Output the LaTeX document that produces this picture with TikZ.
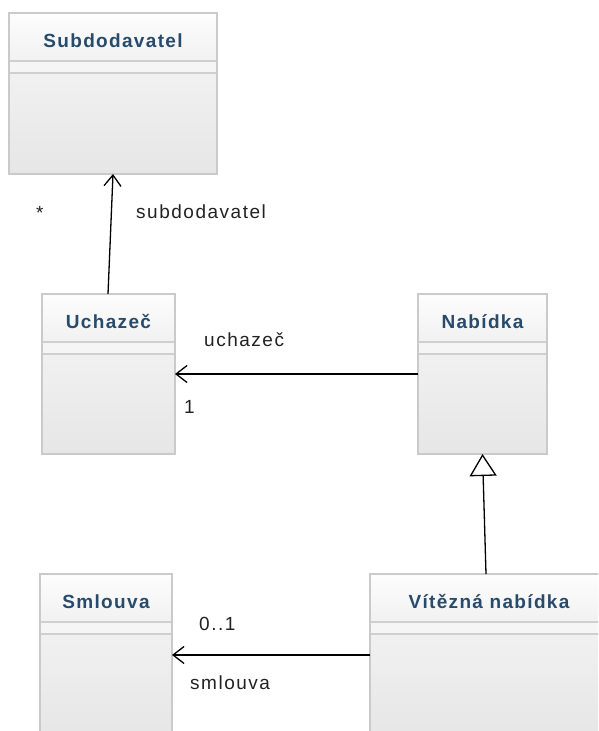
\documentclass[tikz,border=0pt]{standalone}
\usepackage{fontspec}
\setmainfont{Liberation Sans}
\newfontfamily\titlefont[LetterSpace=7]{Liberation Sans}
\newfontfamily\labelfont[LetterSpace=8]{Liberation Sans}
\usetikzlibrary{arrows.meta,calc}

\definecolor{boxline}{HTML}{CACACA}
\definecolor{sepcolor}{HTML}{CFCFCF}
\definecolor{bodytop}{HTML}{F7F7F7}
\definecolor{bodybottom}{HTML}{E6E6E6}
\definecolor{nametop}{HTML}{FDFDFD}
\definecolor{namebottom}{HTML}{F1F1F1}
\definecolor{attrfill}{HTML}{F5F5F5}
\definecolor{titleblue}{HTML}{284B6C}
\definecolor{labelgray}{HTML}{222222}

\tikzset{
  classbody/.style={draw=boxline, line width=1.2pt, top color=bodytop,
    bottom color=bodybottom, inner sep=0pt, outer sep=0pt},
  namefill/.style={top color=nametop, bottom color=namebottom},
  attrband/.style={fill=attrfill},
  sepline/.style={draw=sepcolor, line width=1.2pt},
  classtitle/.style={font={\fontsize{19}{22}\titlefont\bfseries},
    text=titleblue, anchor=base, inner sep=0pt},
  rolelabel/.style={font={\fontsize{19}{22}\labelfont}, text=labelgray,
    anchor=base west, inner sep=0pt},
  assoc/.style={draw=black, line width=1.3pt,
    -{Straight Barb[length=11pt,width=17pt,line width=1.3pt]}},
  generalize/.style={draw=black, line width=1.3pt,
    -{Triangle[length=22pt,width=27pt,fill=white,line width=1.3pt]}}
}

% UML class: name, left, top, width, height, title
\newcommand\umlclass[6]{%
  \node[classbody, minimum width=#4pt, minimum height=#5pt,
        anchor=north west] (#1) at (#2,#3) {};
  \path[namefill] ($(#1.north west)+(0.6,0.6)$) rectangle ($(#1.north east)+(-0.6,48)$);
  \path[attrband] ($(#1.north west)+(0.6,48)$) rectangle ($(#1.north east)+(-0.6,60)$);
  \draw[sepline] ($(#1.north west)+(0,48)$) -- ($(#1.north east)+(0,48)$);
  \draw[sepline] ($(#1.north west)+(0,60)$) -- ($(#1.north east)+(0,60)$);
  \draw[draw=boxline, line width=1.2pt] (#1.north west) rectangle (#1.south east);
  \node[classtitle] (#1-title) at ($(#1.north)+(0,34.5)$) {#6};
}

\begin{document}
\begin{tikzpicture}[x=1pt, y=-1pt]
  \useasboundingbox (0,0) rectangle (598,731);
  \fill[white] (0,0) rectangle (598,731);
  \clip (0,0) rectangle (598,731);

  % classes
  \umlclass{sub}{9}{13}{208}{161}{Subdodavatel}
  \umlclass{uch}{42}{294}{133}{160}{Uchazeč}
  \umlclass{nab}{418}{294}{129}{160}{Nabídka}
  \umlclass{sml}{40}{574}{132}{162}{Smlouva}
  \umlclass{vit}{370}{574}{238}{162}{Vítězná nabídka}

  % associations
  \draw[assoc] ([xshift=-0.5pt]uch.north) -- (sub.south);
  \draw[assoc] (nab.west) -- (uch.east);
  \draw[assoc] (vit.west) -- (sml.east);

  % generalization
  \draw[generalize] ([xshift=-3pt]vit.north) -- (nab.south);

  % role names and multiplicities
  \node[rolelabel] (m-sub)  at (36,219)  {*};
  \node[rolelabel] (r-sub)  at (136,218) {subdodavatel};
  \node[rolelabel] (r-uch)  at (204,346) {uchazeč};
  \node[rolelabel] (m-uch)  at (184,413) {1};
  \node[rolelabel] (m-sml)  at (199,630) {0..1};
  \node[rolelabel] (r-sml)  at (190,689) {smlouva};
\end{tikzpicture}
\end{document}
